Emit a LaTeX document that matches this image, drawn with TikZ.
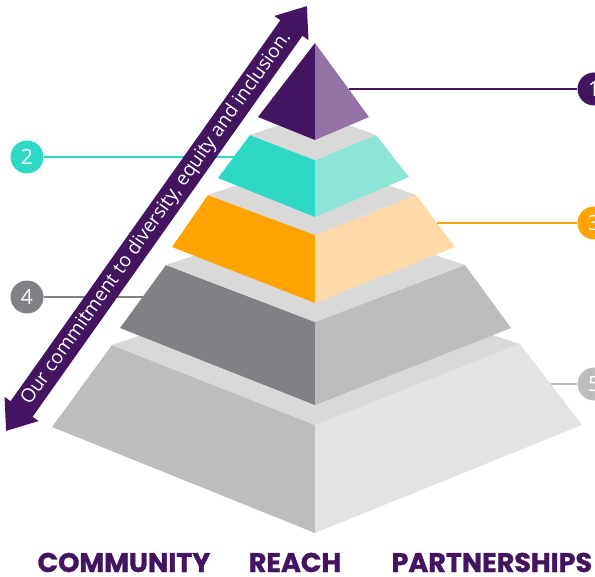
\documentclass[tikz,border=0pt]{standalone}
\usepackage{fontspec}
\usepackage{tikz}
\usetikzlibrary{arrows.meta}
\setmainfont{Open Sans}
\newfontfamily\labelfont{Poppins}[BoldFeatures={FakeBold=1.2}]

\definecolor{dei}{HTML}{43145F}
\definecolor{deilight}{HTML}{9372A5}
\definecolor{teal}{HTML}{2DD9C5}
\definecolor{teallight}{HTML}{8DE5D8}
\definecolor{amber}{HTML}{FFA300}
\definecolor{amberlight}{HTML}{FFD9A8}
\definecolor{slate}{HTML}{808184}
\definecolor{slatelight}{HTML}{BBBCBE}
\definecolor{silver}{HTML}{BCBDBF}
\definecolor{silverlight}{HTML}{E1E3E5}
\definecolor{ledge}{HTML}{D9D9D9}

\tikzset{
  callout/.style={circle, fill=#1, text=white, minimum size=33pt, inner sep=0pt,
    font=\fontsize{21}{21}\selectfont},
  leader/.style={draw=#1, line width=2pt},
  pillar/.style={font=\labelfont\bfseries\fontsize{27}{27}\selectfont, text=dei, anchor=base}
}

\begin{document}
\begin{tikzpicture}[x=1pt, y=-1pt]
        \useasboundingbox (0,0) rectangle (595,577);

        % base tier
        \coordinate (E-tl) at (112,345);
        \coordinate (E-tf) at (315,425);
        \coordinate (E-tr) at (520,344);
        \coordinate (E-bl) at (52,427);
        \coordinate (E-bf) at (315,533);
        \coordinate (E-br) at (582,425);
        \fill[silver] (E-tl) -- (E-tf) -- (E-bf) -- (E-bl) -- cycle;
        \fill[silverlight] (E-tf) -- (E-tr) -- (E-br) -- (E-bf) -- cycle;
        \fill[ledge] (E-tl) -- (E-tf) -- (E-tr) -- (315,277) -- cycle;

        % fourth tier
        \coordinate (D-tl) at (166,265);
        \coordinate (D-tf) at (315,322);
        \coordinate (D-tr) at (465,265);
        \coordinate (D-bl) at (120,328);
        \coordinate (D-bf) at (315,405);
        \coordinate (D-br) at (511,328);
        \fill[slate] (D-tl) -- (D-tf) -- (D-bf) -- (D-bl) -- cycle;
        \fill[slatelight] (D-tf) -- (D-tr) -- (D-br) -- (D-bf) -- cycle;
        \fill[ledge] (D-tl) -- (D-tf) -- (D-tr) -- (315,215) -- cycle;

        % third tier
        \coordinate (C-tl) at (208,195);
        \coordinate (C-tf) at (315,235);
        \coordinate (C-tr) at (416,195);
        \coordinate (C-bl) at (172,247);
        \coordinate (C-bf) at (315,303);
        \coordinate (C-br) at (455,247);
        \fill[amber] (C-tl) -- (C-tf) -- (C-bf) -- (C-bl) -- cycle;
        \fill[amberlight] (C-tf) -- (C-tr) -- (C-br) -- (C-bf) -- cycle;
        \fill[ledge] (C-tl) -- (C-tf) -- (C-tr) -- (315,159) -- cycle;

        % second tier
        \coordinate (B-tl) at (250,135);
        \coordinate (B-tf) at (315,160);
        \coordinate (B-tr) at (376,135);
        \coordinate (B-bl) at (218,178);
        \coordinate (B-bf) at (315,217);
        \coordinate (B-br) at (409,177);
        \fill[teal] (B-tl) -- (B-tf) -- (B-bf) -- (B-bl) -- cycle;
        \fill[teallight] (B-tf) -- (B-tr) -- (B-br) -- (B-bf) -- cycle;
        \fill[ledge] (B-tl) -- (B-tf) -- (B-tr) -- (315,113) -- cycle;

        % top
        \coordinate (A-apex) at (315,43);
        \coordinate (A-bl) at (258,117);
        \coordinate (A-bf) at (315,140);
        \coordinate (A-br) at (369,117);
        \fill[dei] (A-apex) -- (A-bf) -- (A-bl) -- cycle;
        \fill[deilight] (A-apex) -- (A-br) -- (A-bf) -- cycle;

        % callouts
        \node[callout=dei] (n1) at (594,89) {1};
        \node[callout=teal] (n2) at (27,157) {2};
        \node[callout=amber] (n3) at (594,223) {3};
        \node[callout=slate] (n4) at (27,297) {4};
        \node[callout=silver] (n5) at (594,384) {5};

        \coordinate (p1) at (349,89);
        \coordinate (p2) at (234,157);
        \coordinate (p3) at (437,223);
        \coordinate (p4) at (143,297);
        \coordinate (p5) at (551,384);

        \draw[leader=dei] (p1) -- (n1);
        \draw[leader=teal] (n2) -- (p2);
        \draw[leader=amber] (p3) -- (n3);
        \draw[leader=slate] (n4) -- (p4);
        \draw[leader=silver] (p5) -- (n5);

        % commitment arrow
        \coordinate (arr-lo) at (6,431);
        \coordinate (arr-hi) at (307,6);
        \draw[dei, line width=27pt, {Triangle[width=40pt,length=27pt]}-{Triangle[width=40pt,length=27pt]}]
            (arr-lo) -- node[sloped, text=white, font=\fontsize{19.2}{19.2}\selectfont] (motto)
            {Our commitment to diversity, equity and inclusion.} (arr-hi);

        % pillars
        \node[pillar] (community) at (124,572) {COMMUNITY};
        \node[pillar] (reach) at (295,572) {REACH};
        \node[pillar, anchor=base west] (partners) at (388,572) {PARTNERSHIPS};
    \end{tikzpicture}
\end{document}
